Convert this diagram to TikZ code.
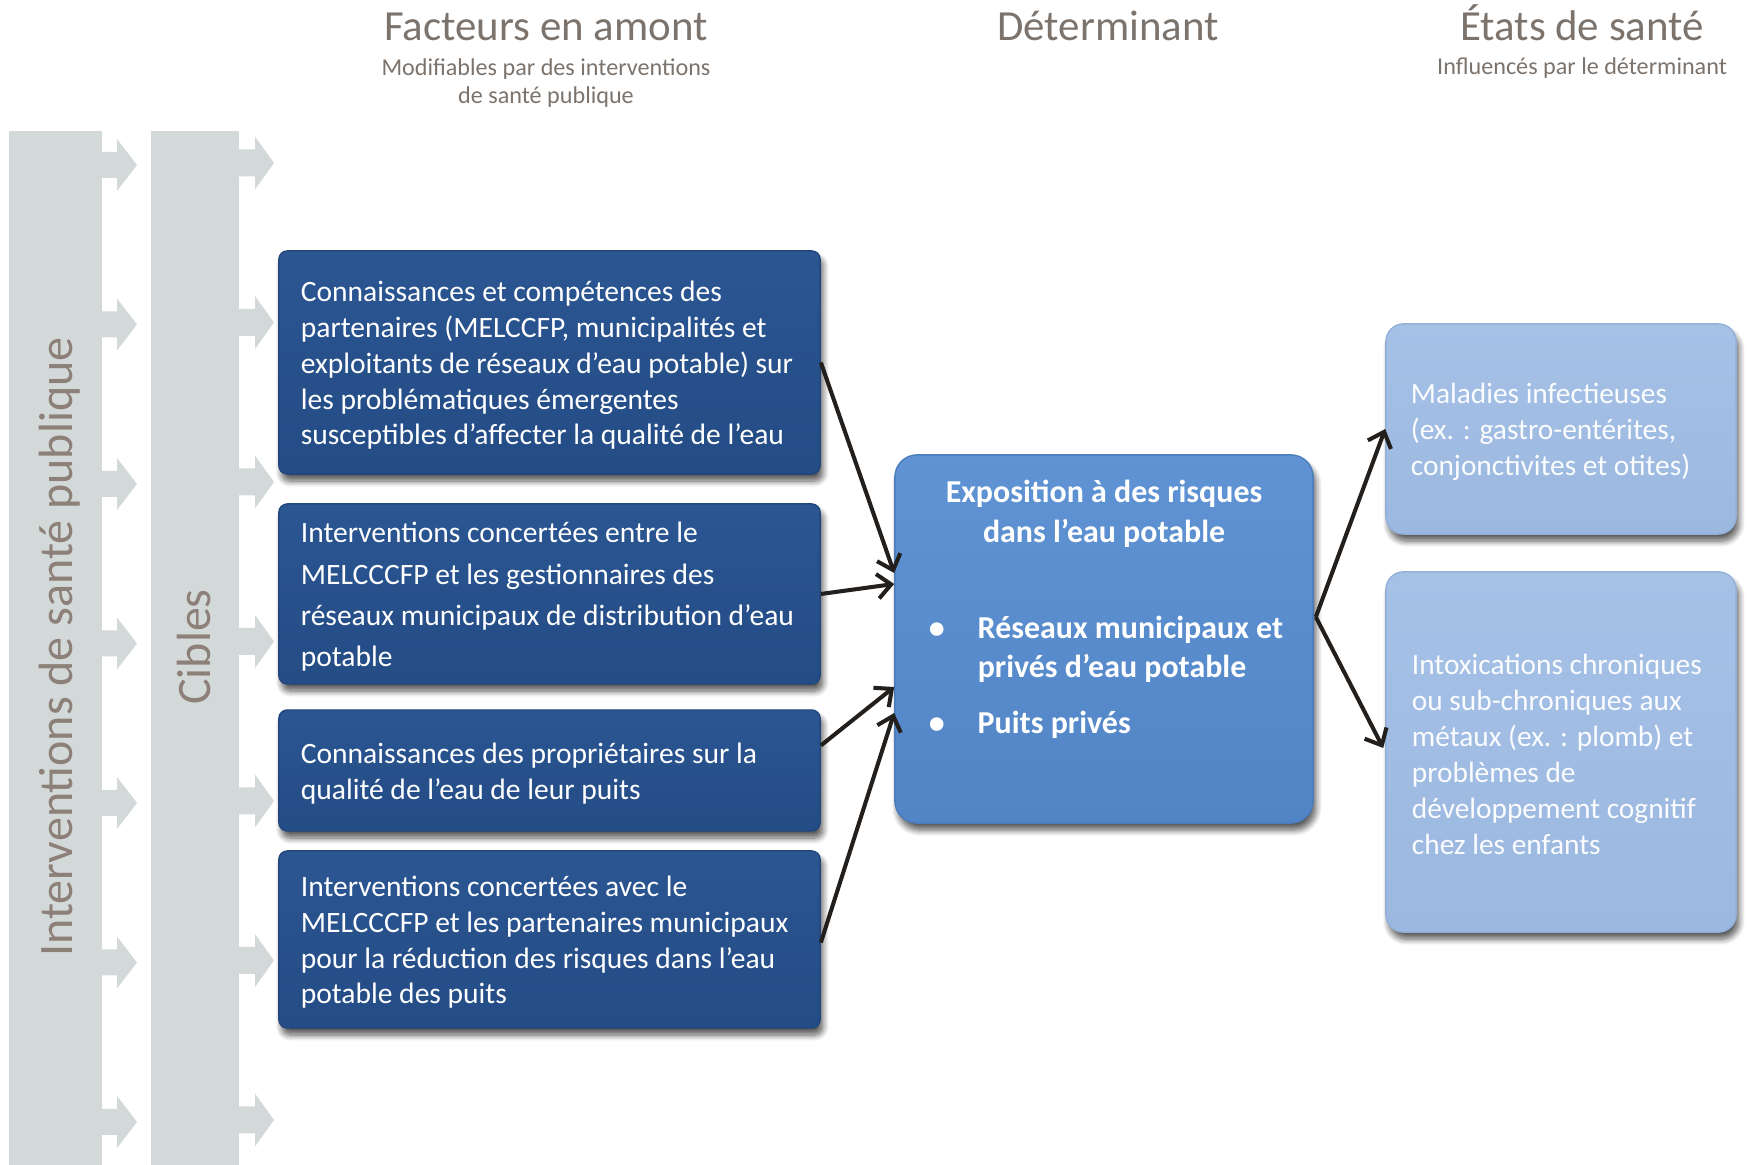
\documentclass[tikz,border=0pt]{standalone}
\usepackage{fontspec}
\setmainfont{Carlito}
\usetikzlibrary{arrows.meta,calc,shadows.blur}

\definecolor{bargray}{HTML}{D3D9D9}
\definecolor{barlabelc}{HTML}{8C8078}
\definecolor{headc}{HTML}{7C736C}
\definecolor{darkTop}{HTML}{2B5692}
\definecolor{darkBot}{HTML}{244C85}
\definecolor{darkEdge}{HTML}{22477C}
\definecolor{midTop}{HTML}{5F93D4}
\definecolor{midBot}{HTML}{5185C6}
\definecolor{midEdge}{HTML}{4B7CBB}
\definecolor{lightTop}{HTML}{A6C1E6}
\definecolor{lightBot}{HTML}{9BB8E0}
\definecolor{lightEdge}{HTML}{93B0D8}
\definecolor{arrowc}{HTML}{231F1C}

\begin{document}
\begin{tikzpicture}[x=0.01cm, y=-0.01cm,
  headstyle/.style={text=headc, inner sep=0pt, font=\fontsize{12.2}{14}\selectfont},
  substyle/.style={text=headc, inner sep=0pt, align=center, font=\fontsize{6.87}{7.97}\selectfont},
  barlabel/.style={text=barlabelc, inner sep=0pt, font=\fontsize{13.65}{16}\selectfont},
  boxshadow/.style={blur shadow={shadow xshift=0.8pt, shadow yshift=-2pt, shadow blur radius=1.7pt, shadow blur steps=8, shadow opacity=65}},
  darkbox/.style={rounded corners=2.4pt, top color=darkTop, bottom color=darkBot, draw=darkEdge, line width=0.4pt, inner sep=0pt, boxshadow},
  midbox/.style={rounded corners=6.3pt, top color=midTop, bottom color=midBot, draw=midEdge, line width=0.4pt, inner sep=0pt, boxshadow},
  lightbox/.style={rounded corners=5pt, top color=lightTop, bottom color=lightBot, draw=lightEdge, line width=0.4pt, inner sep=0pt, boxshadow},
  boxtext/.style={text=white, align=left, inner sep=0pt, font=\fontsize{8.4}{10.15}\selectfont},
  lighttext/.style={text=white!96!lightTop, align=left, inner sep=0pt, font=\fontsize{8.35}{10.24}\selectfont},
  conn/.style={draw=arrowc, line width=1.15pt, -{Straight Barb[length=3.9pt,width=7pt]}}
]
\useasboundingbox (0,0) rectangle (1748,1165);

% --- two grey columns with their chevron arrows
\fill[bargray] (9,131) rectangle (102,1165);
\fill[bargray] (151,131) rectangle (239,1165);
\foreach \k in {0,...,6}{
  \pgfmathsetmacro{\ya}{165+159.5*\k}
  \pgfmathsetmacro{\yb}{163+159.5*\k}
  \fill[bargray] (101,\ya-13) -- (117,\ya-13) -- (117,\ya-26) -- (137,\ya)
    -- (117,\ya+26) -- (117,\ya+13) -- (101,\ya+13) -- cycle;
  \fill[bargray] (238,\yb-13.5) -- (255,\yb-13.5) -- (255,\yb-26.5) -- (274,\yb)
    -- (255,\yb+26.5) -- (255,\yb+13.5) -- (238,\yb+13.5) -- cycle;
}
\node[barlabel, rotate=90, anchor=base] (lblint) at (72,647) {Interventions de santé publique};
\node[barlabel, rotate=90, anchor=base] (lblcib) at (210,647) {Cibles};

% --- column headings
\node[headstyle, anchor=base] (hfac) at (546,41) {Facteurs en amont};
\node[substyle] (sfac) at (546,83) {Modifiables par des interventions\\de santé publique};
\node[headstyle, anchor=base] (hdet) at (1108,41) {Déterminant};
\node[headstyle, anchor=base] (heta) at (1582,41) {États de santé};
\node[substyle, anchor=base] (seta) at (1582,75) {Influencés par le déterminant};

% --- upstream factors
\node[darkbox, minimum width=5.41cm, minimum height=2.23cm] (b1) at (549.5,362.5) {};
\node[darkbox, minimum width=5.41cm, minimum height=1.80cm] (b2) at (549.5,594) {};
\node[darkbox, minimum width=5.41cm, minimum height=1.21cm] (b3) at (549.5,770.5) {};
\node[darkbox, minimum width=5.41cm, minimum height=1.77cm] (b4) at (549.5,939.5) {};

\node[boxtext, anchor=west] (t1) at ($(b1.west)+(22,3)$)
  {Connaissances et compétences des\\partenaires (MELCCFP, municipalités et\\exploitants de réseaux d’eau potable) sur\\les problématiques émergentes\\susceptibles d’affecter la qualité de l’eau};
\node[boxtext, anchor=west, font=\fontsize{8.4}{11.75}\selectfont] (t2) at ($(b2.west)+(22,3)$)
  {Interventions concertées entre le\\MELCCCFP et les gestionnaires des\\réseaux municipaux de distribution d’eau\\potable};
\node[boxtext, anchor=west] (t3) at ($(b3.west)+(22,3)$)
  {Connaissances des propriétaires sur la\\qualité de l’eau de leur puits};
\node[boxtext, anchor=west] (t4) at ($(b4.west)+(22,3)$)
  {Interventions concertées avec le\\MELCCCFP et les partenaires municipaux\\pour la réduction des risques dans l’eau\\potable des puits};

% --- determinant
\node[midbox, minimum width=4.18cm, minimum height=3.68cm] (ctr) at (1104,639) {};
\node[text=white, align=center, anchor=north, inner sep=0pt, font=\fontsize{9.08}{11.4}\selectfont\bfseries]
  (ttl) at ($(ctr.north)+(0,25)$) {Exposition à des risques\\dans l’eau potable};
\node[text=white, align=left, anchor=north west, inner sep=0pt, font=\fontsize{9.08}{11.1}\selectfont\bfseries]
  (lst) at ($(ctr.north west)+(34,161)$)
  {\makebox[13.9pt][l]{•}Réseaux municipaux et\\\hspace*{13.9pt}privés d’eau potable\\[4.8pt]\makebox[13.9pt][l]{•}Puits privés};

% --- health outcomes
\node[lightbox, minimum width=3.50cm, minimum height=2.10cm] (r1) at (1561,429) {};
\node[lightbox, minimum width=3.50cm, minimum height=3.60cm] (r2) at (1561,752) {};
\node[lighttext, anchor=west] (rt1) at ($(r1.west)+(25,3)$)
  {Maladies infectieuses\\(ex. : gastro-entérites,\\conjonctivites et otites)};
\node[lighttext, anchor=west] (rt2) at ($(r2.west)+(26,2)$)
  {Intoxications chroniques\\ou sub-chroniques aux\\métaux (ex. : plomb) et\\problèmes de\\développement cognitif\\chez les enfants};

% --- connectors
\draw[conn] (b1.east) -- ($(ctr.west)+(0,-66)$);
\draw[conn] (b2.east) -- ($(ctr.west)+(0,-55)$);
\draw[conn] ($(b3.east)+(0,-25)$) -- ($(ctr.west)+(0,48)$);
\draw[conn] ($(b4.east)+(0,3)$) -- ($(ctr.west)+(0,74)$);
\coordinate (fork) at ($(ctr.east)+(2,-22)$);
\draw[conn] (fork) -- (r1.west);
\draw[conn] (fork) -- ($(r2.west)+(-2,-4)$);
\end{tikzpicture}
\end{document}
